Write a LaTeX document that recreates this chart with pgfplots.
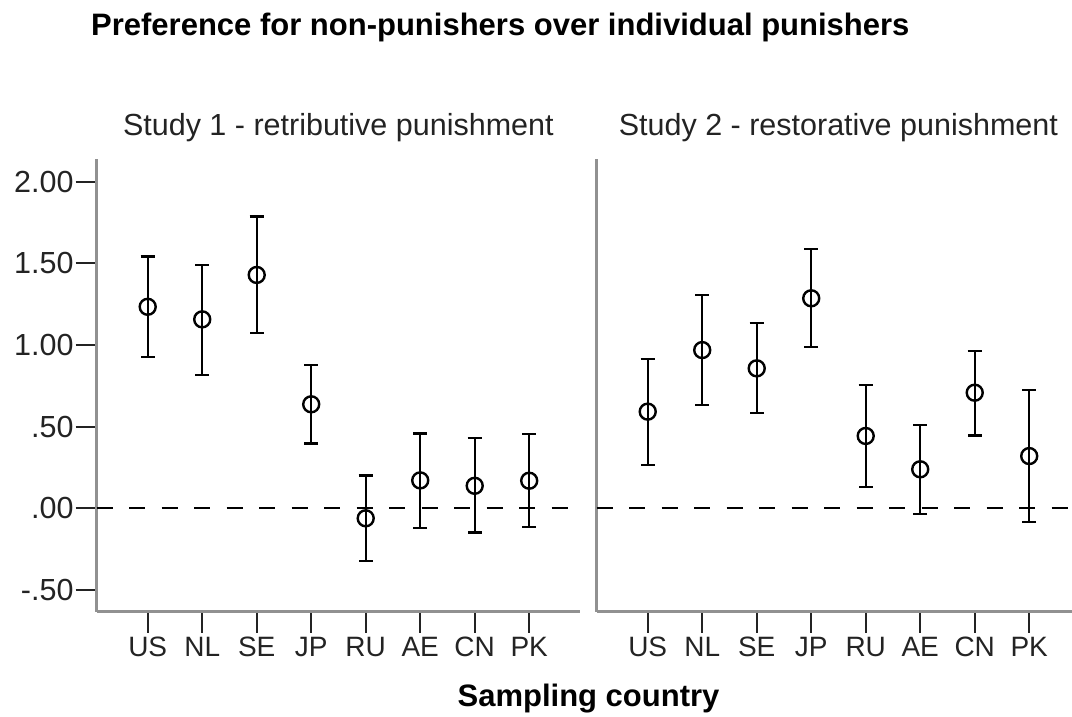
\documentclass[border=0pt]{standalone}
\usepackage{fontspec}
\setmainfont{Liberation Sans}
\usepackage{pgfplots}
\pgfplotsset{compat=1.18}
\usepackage{pgfplotstable}

\pgfplotstableread{
x y ep em
0 1.234 0.307 0.308
1 1.157 0.333 0.341
2 1.429 0.357 0.357
3 0.637 0.241 0.241
4 -0.061 0.263 0.260
5 0.171 0.286 0.293
6 0.138 0.292 0.287
7 0.169 0.286 0.285
}\studyone

\pgfplotstableread{
x y ep em
0 0.592 0.322 0.327
1 0.969 0.337 0.336
2 0.857 0.276 0.275
3 1.286 0.302 0.300
4 0.443 0.312 0.314
5 0.239 0.271 0.274
6 0.708 0.255 0.261
7 0.320 0.403 0.404
}\studytwo

\definecolor{axgray}{RGB}{145,145,145}
\definecolor{tickc}{RGB}{35,35,35}

\pgfplotsset{
  panel/.style={
    scale only axis,
    width=483.3bp, height=452.4bp,
    xmin=-0.936, xmax=7.932,
    ymin=-0.633, ymax=2.137,
    axis lines*=left,
    axis line style={draw=axgray, line width=2.5bp},
    tick align=outside,
    major tick length=21bp,
    tick style={line width=2.3bp, color=tickc},
    xtick={0,1,2,3,4,5,6,7},
    xticklabels={US,NL,SE,JP,RU,AE,CN,PK},
    xticklabel style={font=\fontsize{28bp}{32bp}\selectfont, text=tickc, inner sep=0pt, anchor=north, yshift=-4bp},
    yticklabel style={font=\fontsize{30.5bp}{36bp}\selectfont, text=tickc, inner sep=0pt, anchor=east, xshift=-2bp},
    title style={font=\fontsize{30.5bp}{36bp}\selectfont, text=tickc, at={(axis description cs:0.5,1)}, anchor=base, yshift=17.6bp, inner sep=0pt},
    clip=true,
  },
  ebar/.style={
    only marks, mark=o, mark size=8bp, black,
    mark options={line width=2.4bp, black},
    error bars/.cd, y dir=both, y explicit,
    error bar style={line width=2.4bp, black},
    error mark options={rotate=90, mark size=7bp, line width=2.4bp, black},
  },
}

\begin{document}
\begin{tikzpicture}
\clip (0,0) rectangle (1072bp,-717bp);

\begin{axis}[panel, at={(96.7bp,-611.7bp)}, anchor=south west,
  ytick={-0.5,0,0.5,1,1.5,2},
  yticklabels={{-.50},{.00},{.50},{1.00},{1.50},{2.00}},
  title={Study 1 - retributive punishment}]
  \addplot[black, line width=2.3bp, dash pattern=on 16bp off 16.5bp, forget plot] coordinates {(-0.936,0) (7.932,0)};
  \addplot[ebar] table[x=x, y=y, y error plus=ep, y error minus=em] {\studyone};
\end{axis}

\begin{axis}[panel, at={(596.7bp,-611.7bp)}, anchor=south west,
  ytick=\empty,
  title={Study 2 - restorative punishment}]
  \addplot[black, line width=2.3bp, dash pattern=on 16bp off 16.5bp, forget plot] coordinates {(-0.936,0) (7.932,0)};
  \addplot[ebar] table[x=x, y=y, y error plus=ep, y error minus=em] {\studytwo};
\end{axis}

\node[anchor=base west, inner sep=0pt, font=\fontsize{31bp}{36bp}\selectfont\bfseries] at (91bp,-35bp) {Preference for non-punishers over individual punishers};
\node[anchor=base, inner sep=0pt, font=\fontsize{31bp}{36bp}\selectfont\bfseries] at (588.5bp,-706bp) {Sampling country};
\end{tikzpicture}
\end{document}
